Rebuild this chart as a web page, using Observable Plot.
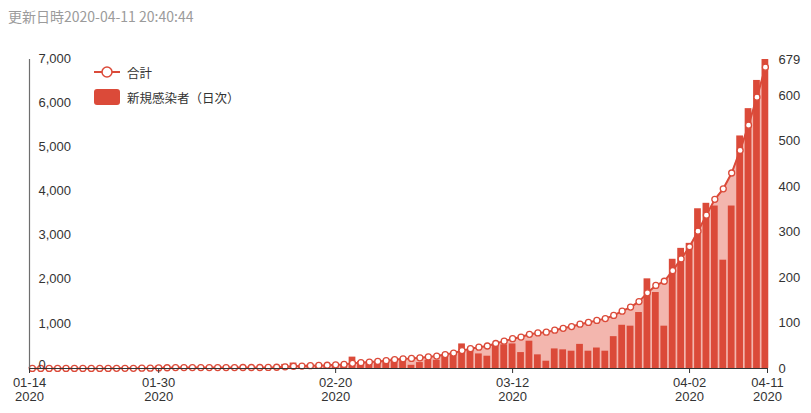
<!DOCTYPE html>
<html><head><meta charset="utf-8">
<script src="https://cdn.jsdelivr.net/npm/d3@7"></script>
<script src="https://cdn.jsdelivr.net/npm/@observablehq/plot@0.6"></script>
<style>
body{margin:0;background:#fff;}
#wrap{position:relative;width:811px;height:413px;overflow:hidden;font-family:"Noto Sans CJK JP","Noto Sans",sans-serif;}
#title{height:30px;box-sizing:border-box;padding:8px 0 0 8px;font-size:14px;line-height:16px;color:#9b9b9b;white-space:nowrap;}
#legend{position:absolute;left:0;top:0;pointer-events:none;}
</style></head><body>
<div id="wrap"><div id="title"></div><div id="chart"></div></div>
<script>
const updatedText = "更新日時2020-04-11 20:40:44";
const seriesNames = ["合計", "新規感染者（日次）"];
const firstDate = "2020-01-15";
const endDateExclusive = "2020-04-12";
// daily new cases (right axis)
const daily = [
  1,0,0,0,0,0,0,0,0,1,
  1,1,0,3,1,5,4,3,0,0,
  1,1,0,0,0,1,0,0,1,4,
  9,12,6,8,7,4,9,9,25,15,
  13,15,18,22,18,7,13,18,18,30,
  32,54,40,32,27,54,52,54,35,60,
  30,16,43,41,38,53,38,45,38,70,
  95,93,123,197,167,93,240,264,275,351,
  363,357,238,357,511,571,633,679
];
// cumulative total (left axis)
const cumulative = [
  1,1,1,1,1,1,1,1,1,2,
  3,4,4,7,8,13,17,20,20,20,
  21,22,22,22,22,23,23,23,24,28,
  37,49,55,63,70,74,83,92,117,132,
  145,160,178,200,220,228,242,262,282,315,
  350,405,448,482,510,566,620,675,712,775,
  806,824,868,910,950,1004,1044,1090,1130,1202,
  1298,1392,1516,1714,1882,1976,2217,2482,2758,3110,
  3474,3832,4071,4429,4941,5513,6147,6827
];
const leftTicks = [0,1000,2000,3000,4000,5000,6000,7000];
const rightTicks = [0,100,200,300,400,500,600,679];
const xTickDates = ["2020-01-14T16:00:00Z","2020-01-30","2020-02-20","2020-03-12","2020-04-02","2020-04-11T06:00:00Z"];
const xTickLabels = ["01-14","01-30","02-20","03-12","04-02","04-11"];
const yearLabel = "2020";

const red = "#db4a39", pink = "#f3b6ae";
const axisFont = '"Liberation Sans",Arial,sans-serif';
const leftMax = leftTicks[leftTicks.length-1];
const rightMax = rightTicks[rightTicks.length-1];
const k = leftMax / rightMax;

document.getElementById("title").textContent = updatedText;

const dates = d3.utcDay.range(new Date(firstDate), new Date(endDateExclusive));
const rows = dates.map((date, i) => ({date, daily: daily[i], cum: cumulative[i]}));
const xTicks = xTickDates.map(d => new Date(d));
const xDomain = [xTicks[0], xTicks[xTicks.length-1]];
const tickMap = new Map(xTicks.map((d, i) => [+d, xTickLabels[i] + "\n" + yearLabel]));
const halfBar = 0.4 * 864e5;
const fmt = d3.format(",");

const chart = Plot.plot({
  width: 811, height: 383,
  marginTop: 29, marginBottom: 45, marginLeft: 29, marginRight: 44,
  style: {fontFamily: axisFont, fontSize: "13px", color: "#333", background: "#fff", overflow: "visible"},
  x: {type: "utc", domain: xDomain},
  y: {domain: [0, leftMax]},
  marks: [
    Plot.areaY(rows, {x: "date", y: "cum", fill: pink}),
    Plot.rect(rows, {x1: d => new Date(+d.date - halfBar), x2: d => new Date(+d.date + halfBar), y1: 0, y2: d => d.daily * k, fill: red}),
    Plot.lineY(rows, {x: "date", y: "cum", stroke: red, strokeWidth: 2}),
    Plot.dot(rows, {x: "date", y: "cum", r: 3, fill: "#fff", stroke: red, strokeWidth: 1.3}),
    Plot.ruleX([xDomain[0]], {y1: 0, y2: leftMax, stroke: "#6e6e6e", strokeWidth: 1.2}),
    Plot.ruleY([0], {stroke: "#333"}),
    Plot.axisX({ticks: xTicks, tickFormat: d => tickMap.get(+d), tickSize: 5, tickPadding: 3, lineHeight: 1.12, label: null}),
    Plot.axisY({anchor: "left", ticks: leftTicks.filter(v => v > 0), tickFormat: fmt, tickSize: 0, tickPadding: 0, textAnchor: "start", dx: 9, dy: -1, label: null}),
    Plot.axisY({anchor: "left", ticks: leftTicks.filter(v => v === 0), tickFormat: fmt, tickSize: 0, tickPadding: 0, textAnchor: "start", dx: 9, dy: -4, label: null}),
    Plot.axisY({anchor: "right", ticks: rightTicks.map(v => v * k), tickFormat: d => String(Math.round(d / k)), tickSize: 0, tickPadding: 11, label: null})
  ]
});
document.getElementById("chart").appendChild(chart);

// legend
const ns = "http://www.w3.org/2000/svg";
const lg = document.createElementNS(ns, "svg");
lg.setAttribute("id", "legend"); lg.setAttribute("width", 811); lg.setAttribute("height", 413);
function el(tag, attrs, text) {
  const e = document.createElementNS(ns, tag);
  for (const a in attrs) e.setAttribute(a, attrs[a]);
  if (text) e.textContent = text;
  lg.appendChild(e); return e;
}
el("line", {x1: 94, y1: 72, x2: 120, y2: 72, stroke: red, "stroke-width": 2});
el("circle", {cx: 107, cy: 72, r: 5, fill: "#fff", stroke: red, "stroke-width": 1.5});
el("text", {x: 127, y: 72, "dominant-baseline": "central", "font-size": 12.5, fill: "#333"}, seriesNames[0]);
el("rect", {x: 94, y: 89, width: 26, height: 16, rx: 3, fill: red});
el("text", {x: 127, y: 97, "dominant-baseline": "central", "font-size": 12.5, fill: "#333"}, seriesNames[1]);
document.getElementById("wrap").appendChild(lg);
</script>
</body></html>
